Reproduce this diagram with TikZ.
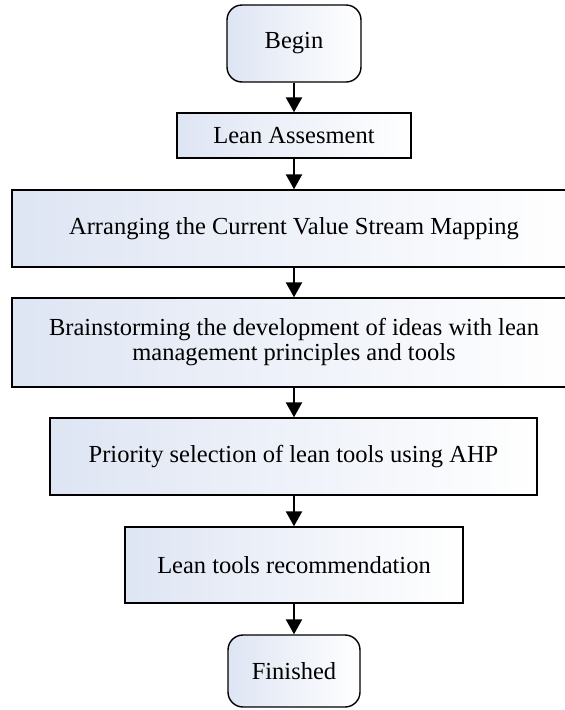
\documentclass[tikz,border=0pt]{standalone}
\usepackage{fontspec}
\setmainfont{Liberation Serif}
\usetikzlibrary{arrows.meta}
\definecolor{lb}{RGB}{222,229,243}
\tikzset{
  x=1pt, y=1pt,
  box/.style={draw=black, line width=1.4pt, left color=lb, right color=white,
    minimum width=#1, inner sep=0pt, align=center,
    font=\fontsize{24.5}{25}\selectfont},
  term/.style={box=#1, rounded corners=15pt},
  arr/.style={line width=2.4pt, -{Triangle[width=16pt,length=15pt]}}
}
\begin{document}
\begin{tikzpicture}
\clip (0,0) rectangle (565,-710);
\node[term=134, minimum height=77] (begin) at (294,-43.5) {Begin};
\node[box=234, minimum height=45] (assess) at (294,-135.5) {Lean Assesment};
\node[box=564, minimum height=77] (vsm) at (294,-228.5) {Arranging the Current Value Stream Mapping};
\node[box=564, minimum height=89] (brain) at (294,-342.5) {Brainstorming the development of ideas with lean\\management principles and tools};
\node[box=487, minimum height=77] (prio) at (293.5,-456.5) {Priority selection of lean tools using AHP};
\node[box=338, minimum height=76] (rec) at (294,-565) {Lean tools recommendation};
\node[term=132, minimum height=72] (fin) at (294,-671) {Finished};
\draw[arr] (begin) -- (assess);
\draw[arr] (assess) -- (vsm);
\draw[arr] (vsm) -- (brain);
\draw[arr] (brain) -- (brain.south |- prio.north);
\draw[arr] (prio.south -| rec.north) -- (rec);
\draw[arr] (rec) -- (fin);
\end{tikzpicture}
\end{document}
